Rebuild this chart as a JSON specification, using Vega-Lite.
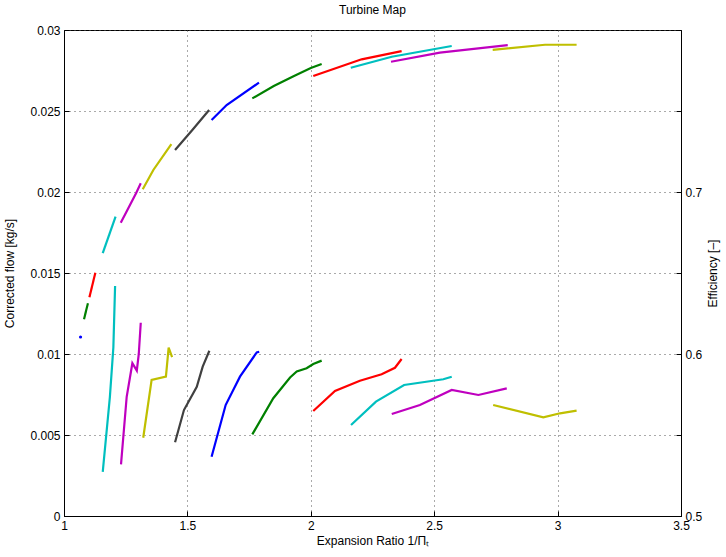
{
  "$schema": "https://vega.github.io/schema/vega-lite/v6.json",
  "autosize": {"type": "none"},
  "padding": {"left": 64, "top": 30, "right": 45, "bottom": 41},
  "width": 617,
  "height": 486,
  "background": "white",
  "title": {"text": "Turbine Map", "fontSize": 12, "fontWeight": "normal", "font": "Liberation Sans", "color": "black", "offset": 7},
  "config": {
    "font": "Liberation Sans",
    "view": {"stroke": "black", "strokeWidth": 1},
    "axis": {
      "labelFont": "Liberation Sans", "labelFontSize": 12, "labelColor": "black",
      "titleFont": "Liberation Sans", "titleFontSize": 12, "titleFontWeight": "normal", "titleColor": "black",
      "domainColor": "black", "tickColor": "black", "tickSize": -5, "labelPadding": 9,
      "gridColor": "#555555", "gridDash": [1, 4], "gridOpacity": 1, "gridWidth": 1
    }
  },
  "data": {"values": [
    {"s": "1", "k": "flow", "x": 1.067, "v": 0.01105},
    {"s": "2", "k": "flow", "x": 1.081, "v": 0.01214},
    {"s": "2", "k": "flow", "x": 1.097, "v": 0.01313},
    {"s": "3", "k": "flow", "x": 1.103, "v": 0.0135},
    {"s": "3", "k": "flow", "x": 1.127, "v": 0.01502},
    {"s": "4", "k": "flow", "x": 1.157, "v": 0.01622},
    {"s": "4", "k": "flow", "x": 1.209, "v": 0.01848},
    {"s": "5", "k": "flow", "x": 1.23, "v": 0.0181},
    {"s": "5", "k": "flow", "x": 1.292, "v": 0.01992},
    {"s": "5", "k": "flow", "x": 1.311, "v": 0.02054},
    {"s": "6", "k": "flow", "x": 1.319, "v": 0.02017},
    {"s": "6", "k": "flow", "x": 1.362, "v": 0.02136},
    {"s": "6", "k": "flow", "x": 1.435, "v": 0.02296},
    {"s": "7", "k": "flow", "x": 1.45, "v": 0.02259},
    {"s": "7", "k": "flow", "x": 1.52, "v": 0.02383},
    {"s": "7", "k": "flow", "x": 1.588, "v": 0.02506},
    {"s": "8", "k": "flow", "x": 1.598, "v": 0.02444},
    {"s": "8", "k": "flow", "x": 1.659, "v": 0.02537},
    {"s": "8", "k": "flow", "x": 1.79, "v": 0.02675},
    {"s": "9", "k": "flow", "x": 1.763, "v": 0.02578},
    {"s": "9", "k": "flow", "x": 1.85, "v": 0.02654},
    {"s": "9", "k": "flow", "x": 1.93, "v": 0.02715},
    {"s": "9", "k": "flow", "x": 2.0, "v": 0.02765},
    {"s": "9", "k": "flow", "x": 2.044, "v": 0.0279},
    {"s": "10", "k": "flow", "x": 2.01, "v": 0.02716},
    {"s": "10", "k": "flow", "x": 2.206, "v": 0.02819},
    {"s": "10", "k": "flow", "x": 2.368, "v": 0.0287},
    {"s": "11", "k": "flow", "x": 2.162, "v": 0.02767},
    {"s": "11", "k": "flow", "x": 2.328, "v": 0.02835},
    {"s": "11", "k": "flow", "x": 2.571, "v": 0.02901},
    {"s": "12", "k": "flow", "x": 2.325, "v": 0.02804},
    {"s": "12", "k": "flow", "x": 2.523, "v": 0.0286},
    {"s": "12", "k": "flow", "x": 2.798, "v": 0.02907},
    {"s": "13", "k": "flow", "x": 2.737, "v": 0.02877},
    {"s": "13", "k": "flow", "x": 2.949, "v": 0.02909},
    {"s": "13", "k": "flow", "x": 3.077, "v": 0.02909},
    {"s": "4", "k": "eff", "x": 1.157, "v": 0.5273},
    {"s": "4", "k": "eff", "x": 1.186, "v": 0.5736},
    {"s": "4", "k": "eff", "x": 1.2, "v": 0.604},
    {"s": "4", "k": "eff", "x": 1.207, "v": 0.642},
    {"s": "5", "k": "eff", "x": 1.231, "v": 0.5319},
    {"s": "5", "k": "eff", "x": 1.254, "v": 0.5736},
    {"s": "5", "k": "eff", "x": 1.277, "v": 0.5943},
    {"s": "5", "k": "eff", "x": 1.295, "v": 0.5897},
    {"s": "5", "k": "eff", "x": 1.303, "v": 0.6},
    {"s": "5", "k": "eff", "x": 1.311, "v": 0.6193},
    {"s": "6", "k": "eff", "x": 1.321, "v": 0.5483},
    {"s": "6", "k": "eff", "x": 1.355, "v": 0.584},
    {"s": "6", "k": "eff", "x": 1.413, "v": 0.586},
    {"s": "6", "k": "eff", "x": 1.424, "v": 0.6039},
    {"s": "6", "k": "eff", "x": 1.438, "v": 0.598},
    {"s": "7", "k": "eff", "x": 1.45, "v": 0.5455},
    {"s": "7", "k": "eff", "x": 1.486, "v": 0.5654},
    {"s": "7", "k": "eff", "x": 1.538, "v": 0.5798},
    {"s": "7", "k": "eff", "x": 1.562, "v": 0.5922},
    {"s": "7", "k": "eff", "x": 1.589, "v": 0.602},
    {"s": "8", "k": "eff", "x": 1.598, "v": 0.5366},
    {"s": "8", "k": "eff", "x": 1.655, "v": 0.5685},
    {"s": "8", "k": "eff", "x": 1.713, "v": 0.586},
    {"s": "8", "k": "eff", "x": 1.781, "v": 0.601},
    {"s": "8", "k": "eff", "x": 1.791, "v": 0.6014},
    {"s": "9", "k": "eff", "x": 1.763, "v": 0.5504},
    {"s": "9", "k": "eff", "x": 1.848, "v": 0.5727},
    {"s": "9", "k": "eff", "x": 1.916, "v": 0.5855},
    {"s": "9", "k": "eff", "x": 1.943, "v": 0.5892},
    {"s": "9", "k": "eff", "x": 1.983, "v": 0.5912},
    {"s": "9", "k": "eff", "x": 2.01, "v": 0.5938},
    {"s": "9", "k": "eff", "x": 2.044, "v": 0.5959},
    {"s": "10", "k": "eff", "x": 2.01, "v": 0.5648},
    {"s": "10", "k": "eff", "x": 2.098, "v": 0.5772},
    {"s": "10", "k": "eff", "x": 2.199, "v": 0.5835},
    {"s": "10", "k": "eff", "x": 2.287, "v": 0.5875},
    {"s": "10", "k": "eff", "x": 2.341, "v": 0.5915},
    {"s": "10", "k": "eff", "x": 2.368, "v": 0.5969},
    {"s": "11", "k": "eff", "x": 2.163, "v": 0.5562},
    {"s": "11", "k": "eff", "x": 2.264, "v": 0.5706},
    {"s": "11", "k": "eff", "x": 2.378, "v": 0.5809},
    {"s": "11", "k": "eff", "x": 2.537, "v": 0.5844},
    {"s": "11", "k": "eff", "x": 2.571, "v": 0.586},
    {"s": "12", "k": "eff", "x": 2.328, "v": 0.563},
    {"s": "12", "k": "eff", "x": 2.442, "v": 0.5685},
    {"s": "12", "k": "eff", "x": 2.571, "v": 0.5778},
    {"s": "12", "k": "eff", "x": 2.679, "v": 0.5747},
    {"s": "12", "k": "eff", "x": 2.794, "v": 0.5788},
    {"s": "13", "k": "eff", "x": 2.739, "v": 0.5685},
    {"s": "13", "k": "eff", "x": 2.942, "v": 0.5609},
    {"s": "13", "k": "eff", "x": 3.01, "v": 0.5634},
    {"s": "13", "k": "eff", "x": 3.077, "v": 0.565}
  ]},
  "encoding": {
    "x": {"field": "x", "type": "quantitative",
      "scale": {"domain": [1, 3.5], "nice": false, "zero": false},
      "axis": {"title": "Expansion Ratio 1/Πₜ", "values": [1, 1.5, 2, 2.5, 3, 3.5], "format": "~g", "grid": true, "titlePadding": 4, "labelFlush": false}},
    "color": {"field": "s", "type": "nominal", "legend": null,
      "scale": {"domain": ["1","2","3","4","5","6","7","8","9","10","11","12","13"],
        "range": ["#0000FF","#008000","#FF0000","#00BFBF","#BF00BF","#BFBF00","#404040","#0000FF","#008000","#FF0000","#00BFBF","#BF00BF","#BFBF00"]}}
  },
  "layer": [
    {
      "transform": [{"filter": "datum.k == 'flow'"}],
      "layer": [
        {
          "mark": {"type": "line", "strokeWidth": 2.2},
          "encoding": {
            "y": {"field": "v", "type": "quantitative",
              "scale": {"domain": [0, 0.03], "nice": false, "zero": false},
              "axis": {"title": "Corrected flow [kg/s]", "values": [0, 0.005, 0.01, 0.015, 0.02, 0.025, 0.03], "format": "~g", "grid": true, "titlePadding": 13, "labelFlush": false}},
            "detail": {"field": "s"}
          }
        },
        {
          "transform": [{"filter": "datum.s == '1'"}],
          "mark": {"type": "circle", "size": 10, "opacity": 1},
          "encoding": {
            "y": {"field": "v", "type": "quantitative"}
          }
        }
      ]
    },
    {
      "transform": [{"filter": "datum.k == 'eff'"}],
      "mark": {"type": "line", "strokeWidth": 2.2},
      "encoding": {
        "y": {"field": "v", "type": "quantitative",
          "scale": {"domain": [0.5, 0.8], "nice": false, "zero": false},
          "axis": {"orient": "right", "title": "Efficiency [–]", "titleAngle": 270, "titleBaseline": "bottom", "values": [0.5, 0.55, 0.6, 0.65, 0.7, 0.75, 0.8], "labelExpr": "(datum.index == 0 || datum.index > 0.3 && datum.index < 0.4 || datum.index > 0.6 && datum.index < 0.7) ? format(datum.value, '.1f') : ''", "grid": false, "titlePadding": 18, "labelFlush": false}},
        "detail": {"field": "s"}
      }
    }
  ],
  "resolve": {"scale": {"y": "independent"}, "axis": {"y": "independent"}}
}
